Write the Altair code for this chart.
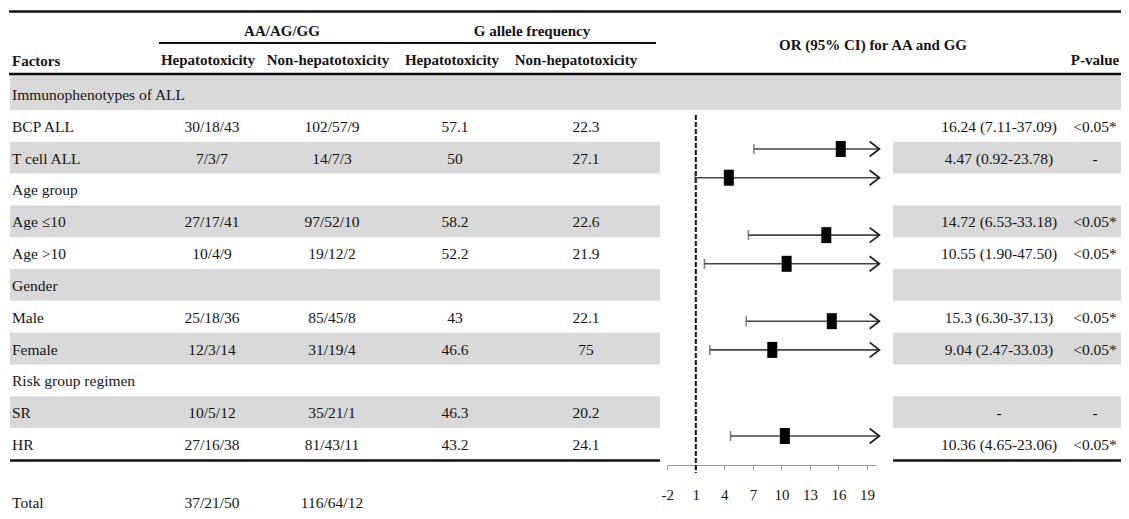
import altair as alt
import pandas as pd

# ---------------- data ----------------
factors = ["Immunophenotypes of ALL", "BCP ALL", "T cell ALL", "Age group", "Age \u226410",
           "Age >10", "Gender", "Male", "Female", "Risk group regimen", "SR", "HR"]
aa_hep = ["", "30/18/43", "7/3/7", "", "27/17/41", "10/4/9", "", "25/18/36", "12/3/14", "", "10/5/12", "27/16/38"]
aa_non = ["", "102/57/9", "14/7/3", "", "97/52/10", "19/12/2", "", "85/45/8", "31/19/4", "", "35/21/1", "81/43/11"]
g_hep = ["", "57.1", "50", "", "58.2", "52.2", "", "43", "46.6", "", "46.3", "43.2"]
g_non = ["", "22.3", "27.1", "", "22.6", "21.9", "", "22.1", "75", "", "20.2", "24.1"]
or_text = ["", "16.24 (7.11-37.09)", "4.47 (0.92-23.78)", "", "14.72 (6.53-33.18)", "10.55 (1.90-47.50)",
           "", "15.3 (6.30-37.13)", "9.04 (2.47-33.03)", "", "-", "10.36 (4.65-23.06)"]
p_text = ["", "<0.05*", "-", "", "<0.05*", "<0.05*", "", "<0.05*", "<0.05*", "", "-", "<0.05*"]
gray_rows = [0, 2, 4, 6, 8, 10]

total_label = ["Total", "37/21/50", "116/64/12"]

forest_rows = [1, 2, 4, 5, 7, 8, 11]
or_vals = [16.24, 4.47, 14.72, 10.55, 15.3, 9.04, 10.36]
or_low = [7.11, 0.92, 6.53, 1.90, 6.30, 2.47, 4.65]
or_high = [37.09, 23.78, 33.18, 47.50, 37.13, 33.03, 23.06]
axis_ticks = [-2, 1, 4, 7, 10, 13, 16, 19]
ref_value = 1

# ---------------- layout ----------------
W, H = 1113, 503
FONT = "Liberation Serif"
TXT = "#151515"
GRAY = "#d9d9d9"
ARROW_AT = 20.3  # where the plotted interval is cut and the arrow drawn

row_scale = alt.Scale(domain=[-2.7075, 13.110], range=[0, H], nice=False, zero=False)
fx = alt.Scale(domain=[-2, 19.9], range=[659.3, 659.3 + 21.9 * 9.51], nice=False, zero=False)
fy = alt.Scale(domain=[1, 11], range=[141, 428], nice=False, zero=False)

rows = list(range(len(factors)))
table = pd.DataFrame({"row": rows, "factor": factors, "c1": aa_hep, "c2": aa_non,
                      "c3": g_hep, "c4": g_non, "orx": or_text, "p": p_text})
bands = pd.DataFrame({"row": gray_rows})
bands["y0"] = [r - (0.6 if r == 0 else 0.5) for r in gray_rows]
bands["y1"] = [r + 0.5 for r in gray_rows]
top_band = bands[bands["row"] == 0]

forest = pd.DataFrame({"row": forest_rows, "or": or_vals, "low": or_low, "high": or_high})
forest["tip"] = [min(h, ARROW_AT) for h in or_high]

one = pd.DataFrame({"k": [0]})
layers = []

# gray bands
def band_layer(df, x0, x1):
    return alt.Chart(df).mark_rect(color=GRAY).encode(
        x=alt.value(x0), x2=alt.value(x1),
        y=alt.Y("y0:Q", scale=row_scale, axis=None), y2="y1:Q")

layers.append(band_layer(bands, 2, 652))
layers.append(band_layer(bands, 885, W))
layers.append(band_layer(top_band, 652, 885))

# table text
def col_text(field, xpos, align="center"):
    return alt.Chart(table).mark_text(font=FONT, fontSize=15.5, color=TXT, align=align,
                                      baseline="middle", dy=1).encode(
        x=alt.value(xpos), y=alt.Y("row:Q", scale=row_scale, axis=None), text=f"{field}:N")

layers += [col_text("factor", 4, "left"), col_text("c1", 204), col_text("c2", 324),
           col_text("c3", 447), col_text("c4", 578), col_text("orx", 991), col_text("p", 1087)]

# total row
total_df = pd.DataFrame({"row": [12.86] * 3, "t": total_label, "col": [0, 1, 2]})
for i, (xp, al) in enumerate([(4, "left"), (204, "center"), (324, "center")]):
    layers.append(alt.Chart(total_df[total_df["col"] == i]).mark_text(
        font=FONT, fontSize=15.5, color=TXT, align=al, baseline="middle").encode(
        x=alt.value(xp), y=alt.Y("row:Q", scale=row_scale, axis=None), text="t:N"))

# headers
headers = [("AA/AG/GG", 274, 23, "center"), ("G allele frequency", 524, 23, "center"),
           ("Factors", 4, 53, "left"), ("Hepatotoxicity", 200, 52, "center"),
           ("Non-hepatotoxicity", 320, 52, "center"), ("Hepatotoxicity", 444, 52, "center"),
           ("Non-hepatotoxicity", 568, 52, "center"), ("OR (95% CI) for AA and GG", 865, 37, "center"),
           ("P-value", 1087, 52, "center")]
for txt, xp, yp, al in headers:
    layers.append(alt.Chart(one).mark_text(font=FONT, fontSize=15, fontWeight="bold", color=TXT,
                                           align=al, baseline="middle", text=txt).encode(
        x=alt.value(xp), y=alt.value(yp)))

# horizontal rules
rules = [(1, W, 3.5, 2.5), (151, 648, 35, 2), (1, W, 66, 2.5), (2, 652, 452.5, 2.5), (885, W, 452.5, 2.5)]
for x0, x1, yy, sw in rules:
    layers.append(alt.Chart(one).mark_rule(color="#111", strokeWidth=sw).encode(
        x=alt.value(x0), x2=alt.value(x1), y=alt.value(yy)))

# forest plot
ref_df = pd.DataFrame({"ref": [ref_value]})
layers.append(alt.Chart(ref_df).mark_rule(color="#111", strokeWidth=2, strokeDash=[5, 2]).encode(
    x=alt.X("ref:Q", scale=fx, axis=None), y=alt.value(107), y2=alt.value(465)))

layers.append(alt.Chart(forest).mark_rule(color="#444", strokeWidth=1.6).encode(
    x=alt.X("low:Q", scale=fx, axis=alt.Axis(values=axis_ticks, offset=-46, grid=False, title=None,
                                             domainColor="#9a9a9a", tickColor="#9a9a9a", tickSize=5,
                                             labelFont=FONT, labelFontSize=15, labelColor=TXT,
                                             labelPadding=17, labelExpr="'' + datum.value",
                                             labelFlush=False)),
    x2="tip:Q", y=alt.Y("row:Q", scale=fy, axis=None)))

layers.append(alt.Chart(forest).mark_tick(orient="vertical", color="#444", size=10, thickness=1.5).encode(
    x=alt.X("low:Q", scale=fx, axis=None), y=alt.Y("row:Q", scale=fy, axis=None)))

layers.append(alt.Chart(forest).mark_point(shape="M-1.3,-1L0,0L-1.3,1", filled=False, size=225,
                                           color="#222", strokeWidth=1.8, opacity=1).encode(
    x=alt.X("tip:Q", scale=fx, axis=None), y=alt.Y("row:Q", scale=fy, axis=None)))

layers.append(alt.Chart(forest).mark_point(shape="M-0.625,-1H0.625V1H-0.625Z", filled=True, size=256,
                                           color="#000", opacity=1).encode(
    x=alt.X("or:Q", scale=fx, axis=None), y=alt.Y("row:Q", scale=fy, axis=None)))

chart = alt.layer(*layers).resolve_scale(x="independent", y="independent").properties(
    width=W, height=H, autosize=alt.AutoSizeParams(type="none"), padding=0,
    background="white").configure_view(stroke=None)

chart.save("out.html", embed_options={"renderer": "svg", "actions": False})
